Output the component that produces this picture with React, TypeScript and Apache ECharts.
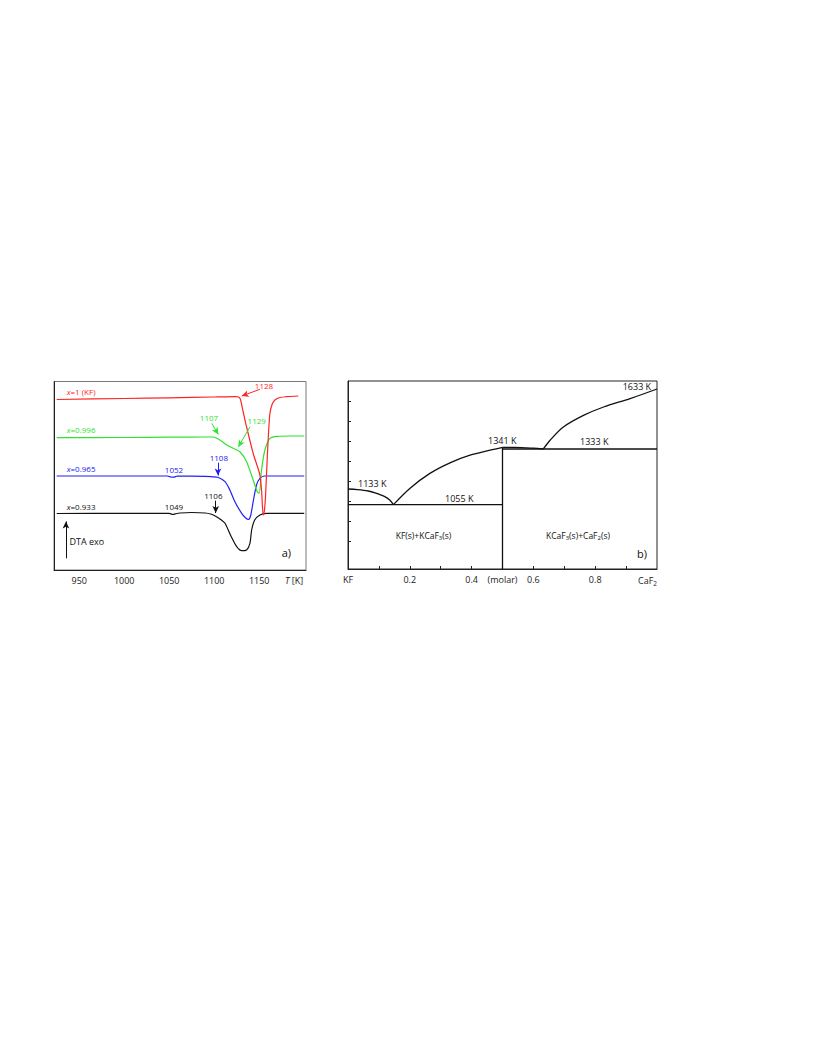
import React, { useEffect, useRef } from 'react';
import * as echarts from 'echarts';

// ---------- a) DTA curves ----------
const dtaTickLabels = [950, 1000, 1050, 1100, 1150];

const redT = [925, 1000, 1050, 1100, 1124, 1127, 1129, 1132, 1136, 1143.5, 1150.5, 1152.6, 1154.4, 1155.6, 1157, 1159.2, 1161.8, 1164.5, 1167.5, 1173, 1180, 1193.4];
const redV = [170.5, 171.5, 172.2, 173, 173.3, 173, 171, 159, 143, 116, 96, 80, 55, 58, 73, 117, 156, 166, 170, 172.5, 173.3, 174];

const greenT = [925, 1000, 1050, 1090, 1098, 1103, 1108, 1114, 1121, 1128.5, 1136, 1143.3, 1147.8, 1150, 1152.6, 1156.3, 1162, 1170, 1185, 1200];
const greenV = [132.3, 132.5, 132.8, 133, 133, 131.7, 129, 125, 121.7, 118.3, 108.3, 90, 78.3, 76.7, 100, 120, 131.7, 133.7, 134, 134];

const blueT = [925, 1000, 1048, 1052, 1055, 1059, 1090, 1098, 1104, 1112, 1117.4, 1123, 1130.5, 1135, 1138, 1140.5, 1143.3, 1147, 1150.8, 1156, 1170, 1200];
const blueV = [94, 94, 94, 93, 92.8, 94, 93.7, 93.2, 92.7, 88.3, 80, 68.3, 56.7, 52, 50.5, 54.5, 68.3, 85, 91.7, 94, 94, 94];

const blackT = [925, 1000, 1050, 1054, 1057, 1062, 1075, 1090, 1096, 1102.6, 1108, 1112, 1119, 1125, 1130.5, 1136, 1139.7, 1141.6, 1145, 1150.8, 1158, 1200];
const blackV = [56.5, 56.7, 56.7, 55.5, 56.2, 57, 57.5, 57, 56, 53.3, 50, 46.7, 33.3, 23.3, 19.3, 20, 26.7, 40, 50, 55, 56.7, 56.7];

// arrows: [fromT, fromV, toT, toV]
const redArrows = [[1150.8, 180.7, 1130.6, 174]];
const greenArrows = [[1097.2, 146.7, 1104.6, 135.5], [1139.8, 143.3, 1126.8, 123]];
const blueArrows = [[1104.2, 107.3, 1104.2, 94.5]];
const blackArrows = [[1101.7, 69.3, 1101.7, 57], [935.3, 11.7, 935.3, 48.5]];

// ---------- b) phase diagram ----------
const phaseXTicks = [0.1, 0.2, 0.3, 0.4, 0.5, 0.6, 0.7, 0.8, 0.9];
const phaseXLabels = [0, 0.2, 0.4, 0.5, 0.6, 0.8, 1];
const phaseYTicks = [873, 973, 1073, 1173, 1273, 1373, 1473, 1573];

const kfLiqX = [0, 0.03, 0.065, 0.09, 0.119, 0.135, 0.147];
const kfLiqT = [1133, 1130, 1123, 1112, 1095, 1078, 1055];

const kcafLiqX = [0.147, 0.2, 0.265, 0.33, 0.395, 0.46, 0.5];
const kcafLiqT = [1055, 1136, 1211, 1264, 1302, 1327, 1341];

const midLiqX = [0.5, 0.54, 0.6, 0.632];
const midLiqT = [1341, 1341, 1337, 1333];

const caf2LiqX = [0.632, 0.654, 0.697, 0.762, 0.827, 0.913, 1.0];
const caf2LiqT = [1333, 1377, 1443, 1501, 1543, 1585, 1633];

const eutecticLeft = [[0, 1055], [0.5, 1055]];
const eutecticRight = [[0.5, 1333], [1, 1333]];
const compoundLine = [[0.5, 733], [0.5, 1341]];

const FONT = 'Open Sans';

const zip = (a: number[], b: number[]) => a.map((v, i) => [v, b[i]]);

const arrowLines = (arr: number[][]) =>
  arr.map((a) => [{ coord: [a[0], a[1]] }, { coord: [a[2], a[3]] }]);

function dtaSeries(name: string, color: string, t: number[], v: number[], arrows: number[][]) {
  return {
    name,
    type: 'line',
    xAxisIndex: 0,
    yAxisIndex: 0,
    data: zip(t, v),
    showSymbol: false,
    symbol: 'none',
    smooth: 0.25,
    lineStyle: { color, width: 1.2 },
    silent: true,
    markLine: {
      silent: true,
      symbol: ['none', 'arrow'],
      symbolSize: [5, 7],
      label: { show: false },
      lineStyle: { color, width: 1, type: 'solid' },
      emphasis: { disabled: true },
      data: arrowLines(arrows),
    },
  };
}

function phaseSeries(data: number[][], smooth: boolean) {
  return {
    type: 'line',
    xAxisIndex: 1,
    yAxisIndex: 1,
    data,
    showSymbol: false,
    symbol: 'none',
    smooth: smooth ? 0.3 : false,
    lineStyle: { color: '#111', width: 1.3 },
    silent: true,
  };
}

function txt(text: string, x: number, y: number, color: string, size: number, align = 'left', rich?: any) {
  return {
    type: 'text',
    x,
    y,
    silent: true,
    style: {
      text,
      fill: color,
      fontSize: size,
      fontFamily: FONT,
      align,
      verticalAlign: 'middle',
      textAlign: align,
      textVerticalAlign: 'middle',
      rich,
    },
  };
}

function richFor(color: string, size: number) {
  return {
    i: { fontStyle: 'italic', fill: color, fontSize: size, fontFamily: FONT },
    sub: { fontSize: size * 0.7, fill: color, fontFamily: FONT, padding: [5, 0, 0, 0] },
  };
}

export default function App() {
  const ref = useRef<HTMLDivElement>(null);
  useEffect(() => {
    if (!ref.current) return;
    const chart = echarts.init(ref.current, undefined, { renderer: 'svg' });
    const RED = '#ff2424';
    const GREEN = '#2fe32f';
    const BLUE = '#2020f5';
    const BLACK = '#111';
    chart.setOption({
      animation: false,
      grid: [
        { left: 54, top: 381.5, width: 252, height: 188.5, show: true, borderColor: '#777', borderWidth: 1, backgroundColor: 'transparent' },
        { left: 348, top: 381, width: 309, height: 188, show: true, borderColor: '#222', borderWidth: 1, backgroundColor: 'transparent' },
      ],
      xAxis: [
        {
          type: 'value', gridIndex: 0, min: 922, max: 1202,
          axisLine: { show: true, lineStyle: { color: '#222', width: 1 } },
          axisTick: { show: false },
          splitLine: { show: false },
          axisLabel: {
            customValues: dtaTickLabels, fontSize: 9, color: '#222', fontFamily: FONT, margin: 6,
            formatter: (v: number) => String(v),
          },
        },
        {
          type: 'value', gridIndex: 1, min: 0, max: 1,
          axisLine: { show: true, lineStyle: { color: '#222', width: 1 } },
          axisTick: { show: true, inside: true, length: 3, customValues: phaseXTicks, lineStyle: { color: '#222' } },
          splitLine: { show: false },
          axisLabel: {
            customValues: phaseXLabels,
            fontSize: 9, color: '#222', fontFamily: FONT, margin: 6,
            alignMaxLabel: 'right',
            formatter: (v: number) => {
              if (v === 0) return 'KF';
              if (v === 1) return '{n|CaF}{sub|2}';
              if (Math.abs(v - 0.5) < 1e-6) return '(molar)';
              return String(v);
            },
            rich: {
              n: { fontSize: 9, color: '#222', fontFamily: FONT, padding: [0, 0, 2, 0] },
              sub: { fontSize: 6.5, color: '#222', fontFamily: FONT, padding: [5, 0, 0, 0] },
            },
          },
        },
      ],
      yAxis: [
        {
          type: 'value', gridIndex: 0, min: 0, max: 188.5,
          axisLine: { show: true, lineStyle: { color: '#222', width: 1 } },
          axisTick: { show: false }, axisLabel: { show: false }, splitLine: { show: false },
        },
        {
          type: 'value', gridIndex: 1, min: 733, max: 1673,
          axisLine: { show: true, lineStyle: { color: '#222', width: 1 } },
          axisTick: { show: true, inside: true, length: 3, customValues: phaseYTicks, lineStyle: { color: '#222' } },
          axisLabel: { show: false }, splitLine: { show: false },
        },
      ],
      series: [
        dtaSeries('x=0.933', BLACK, blackT, blackV, blackArrows),
        dtaSeries('x=0.965', BLUE, blueT, blueV, blueArrows),
        dtaSeries('x=0.996', GREEN, greenT, greenV, greenArrows),
        dtaSeries('x=1 (KF)', RED, redT, redV, redArrows),
        phaseSeries(zip(kfLiqX, kfLiqT), true),
        phaseSeries(zip(kcafLiqX, kcafLiqT), true),
        phaseSeries(zip(midLiqX, midLiqT), true),
        phaseSeries(zip(caf2LiqX, caf2LiqT), true),
        phaseSeries(eutecticLeft, false),
        phaseSeries(eutecticRight, false),
        phaseSeries(compoundLine, false),
      ],
      graphic: [
        txt('{i|x}=1 (KF)', 66.7, 391, RED, 8, 'left', richFor(RED, 8)),
        txt('{i|x}=0.996', 66.7, 429.5, GREEN, 8, 'left', richFor(GREEN, 8)),
        txt('{i|x}=0.965', 66.7, 468.3, BLUE, 8, 'left', richFor(BLUE, 8)),
        txt('{i|x}=0.933', 66.7, 506, BLACK, 8, 'left', richFor(BLACK, 8)),
        txt('1052', 174, 469.3, BLUE, 8, 'center'),
        txt('1049', 174, 506.7, BLACK, 8, 'center'),
        txt('1128', 264, 385.7, RED, 8, 'center'),
        txt('1107', 209, 417.5, GREEN, 8, 'center'),
        txt('1129', 256.7, 420.7, GREEN, 8, 'center'),
        txt('1108', 218.8, 457.3, BLUE, 8, 'center'),
        txt('1106', 213.3, 495, BLACK, 8, 'center'),
        txt('DTA exo', 69.5, 541.7, BLACK, 9),
        txt('a)', 281.7, 552.7, BLACK, 11),
        txt('{i|T} [K]', 285, 580.7, '#222', 9, 'left', richFor('#222', 9)),
        txt('1133 K', 358, 483.3, BLACK, 9),
        txt('1055 K', 445, 498.3, BLACK, 9),
        txt('1341 K', 488, 440.7, BLACK, 9),
        txt('1333 K', 580, 441.7, BLACK, 9),
        txt('1633 K', 622.7, 386, BLACK, 9),
        txt('KF(s)+KCaF{sub|3}(s)', 423.5, 535.7, BLACK, 8.5, 'center', richFor(BLACK, 8.5)),
        txt('KCaF{sub|3}(s)+CaF{sub|2}(s)', 578, 535.7, BLACK, 8.5, 'center', richFor(BLACK, 8.5)),
        txt('b)', 637, 553.3, BLACK, 11),
      ],
    });
    return () => chart.dispose();
  }, []);
  return (
    <div
      ref={ref}
      style={{ position: 'absolute', left: 0, top: 0, width: 814, height: 1053, background: '#fff' }}
    />
  );
}
